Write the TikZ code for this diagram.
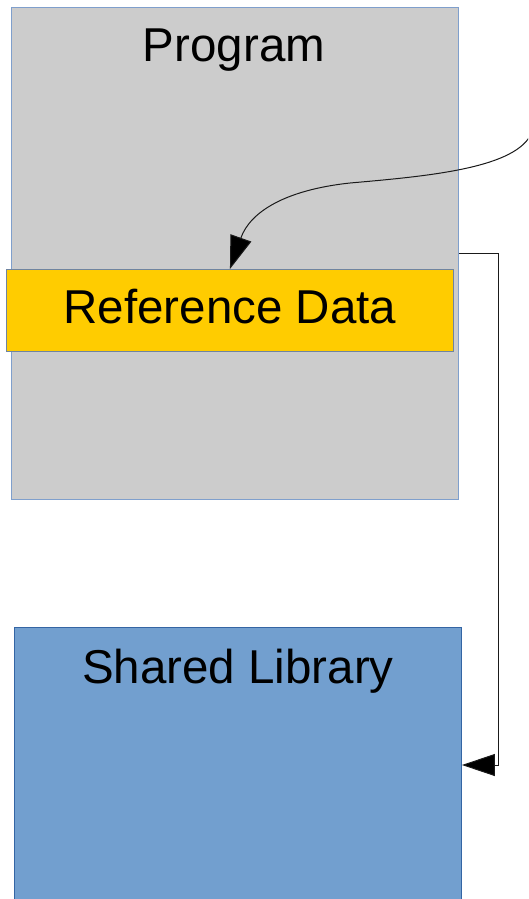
\documentclass[tikz,border=0pt]{standalone}
\usepackage{fontspec}
\setmainfont{Liberation Sans}
\usetikzlibrary{arrows.meta}
\definecolor{progfill}{HTML}{CCCCCC}
\definecolor{progline}{HTML}{7F9FCC}
\definecolor{reffill}{HTML}{FFCC00}
\definecolor{refline}{HTML}{6F84A0}
\definecolor{libfill}{HTML}{729FCF}
\definecolor{libline}{HTML}{3465A4}
\definecolor{connline}{HTML}{1A1A1A}
\tikzset{
  box/.style={draw, line width=0.9pt, rectangle, anchor=north west, inner sep=0pt},
  bigtext/.style={anchor=base, font=\fontsize{47.5}{57}\selectfont},
  conn/.style={draw=connline, line width=1pt},
  tip/.style={-{Triangle[length=33pt,width=22pt,fill=black]}}
}
\begin{document}
\begin{tikzpicture}[x=1pt,y=1pt]
\path[use as bounding box, clip] (0,0) rectangle (528,-899);
\fill[white] (0,0) rectangle (528,-899);
\node[box, fill=progfill, draw=progline, minimum width=447pt, minimum height=492pt] (prog) at (11,-7) {};
\node[bigtext] (progt) at (234,-62) {Program};
\node[box, fill=reffill, draw=refline, minimum width=447pt, minimum height=82pt] (ref) at (6,-269) {};
\node[bigtext] (reft) at (230,-323) {Reference Data};
\node[box, fill=libfill, draw=libline, minimum width=447pt, minimum height=290pt] (lib) at (14,-627) {};
\node[bigtext] (libt) at (238,-683) {Shared Library};
\coordinate (src) at (532,-132);
\draw[conn, tip] (src) .. controls (518,-168) and (430,-176) .. (350,-183) .. controls (285,-190) and (250,-212) .. (ref.north);
\draw[conn, tip] ([yshift=-246pt]prog.north east) -- ++(40,0) |- ([yshift=-138pt]lib.north east);
\end{tikzpicture}
\end{document}
